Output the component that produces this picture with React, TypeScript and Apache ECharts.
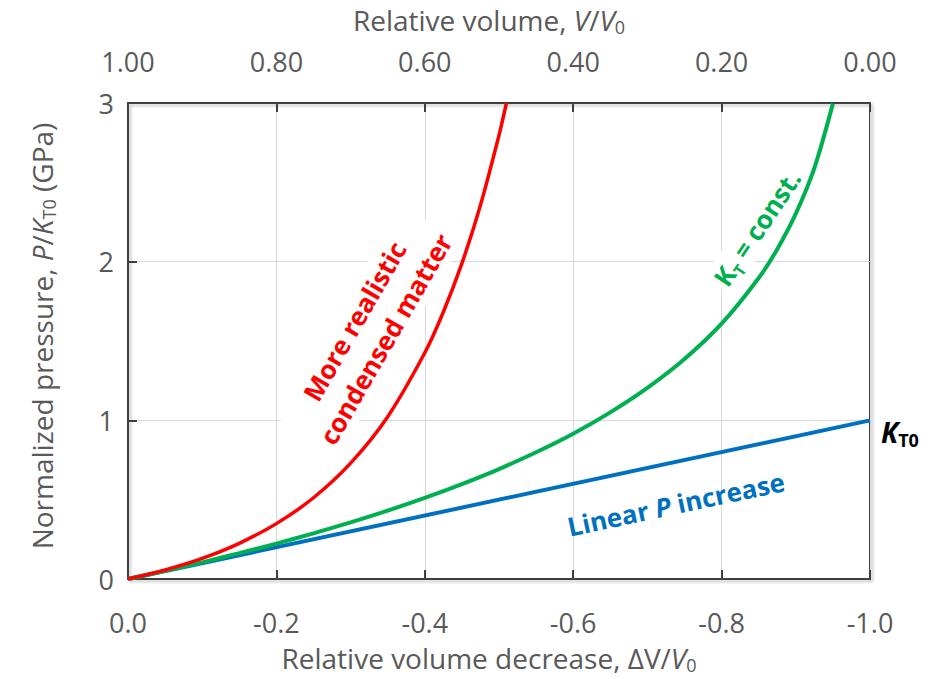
import React, { useEffect, useRef } from "react";
import * as echarts from "echarts";

// Relative volume decrease ΔV/V0 (x) and normalized pressure P/K_T0 (y)
const linearX = [0, -1.0];
const linearY = [0, 1.0];

const ktConstX = [0, -0.05, -0.1, -0.15, -0.2, -0.25, -0.3, -0.35, -0.4, -0.45, -0.5, -0.55, -0.6, -0.65, -0.7, -0.75, -0.8, -0.85, -0.875, -0.9, -0.925, -0.95];
const ktConstY = [0, 0.051, 0.105, 0.163, 0.223, 0.288, 0.357, 0.431, 0.511, 0.598, 0.693, 0.799, 0.916, 1.05, 1.204, 1.386, 1.609, 1.897, 2.079, 2.303, 2.59, 2.996];

const realX = [0, -0.05, -0.1, -0.15, -0.2, -0.25, -0.3, -0.35, -0.4, -0.425, -0.45, -0.475, -0.5, -0.51];
const realY = [0, 0.057, 0.13, 0.225, 0.349, 0.512, 0.73, 1.023, 1.426, 1.683, 1.989, 2.356, 2.797, 3.0];

const bottomTicks = { min: -1, max: 0, interval: 0.2 };
const topTicks = { min: 0, max: 1, interval: 0.2 };
const yTicks = { min: 0, max: 3, interval: 1 };

const FONT = "'Open Sans', 'Noto Sans', sans-serif";
const GREY = "#595959";
const RED = "#ff0000";
const GREEN = "#00b050";
const BLUE = "#0070c0";

const zip = (xs: number[], ys: number[]) => xs.map((x, i) => [x, ys[i]]);

export default function App() {
  const ref = useRef<HTMLDivElement>(null);
  useEffect(() => {
    if (!ref.current) return;
    const chart = echarts.init(ref.current, undefined, { renderer: "svg" });
    const axisLine = { show: true, lineStyle: { color: "#404040", width: 2 } };
    const axisTick = { show: true, inside: true, length: 9, lineStyle: { color: "#404040", width: 2 } };
    const labelStyle = { color: GREY, fontSize: 27, fontFamily: FONT };
    const nameRich = {
      n: { fontSize: 28, fontFamily: FONT, color: GREY },
      i: { fontSize: 28, fontFamily: FONT, color: GREY, fontStyle: "italic" },
      s: { fontSize: 18, fontFamily: FONT, color: GREY, verticalAlign: "bottom", lineHeight: 32 },
    };
    chart.setOption({
      animation: false,
      backgroundColor: "#ffffff",
      grid: {
        left: 128,
        right: 71,
        top: 103,
        bottom: 94,
        show: true,
        borderColor: "#404040",
        borderWidth: 2,
        shadowColor: "rgba(0,0,0,0.25)",
        shadowBlur: 3,
        shadowOffsetX: 2,
        shadowOffsetY: 2,
      },
      xAxis: [
        {
          type: "value",
          position: "bottom",
          ...bottomTicks,
          inverse: true,
          axisLine,
          axisTick,
          splitLine: { show: true, lineStyle: { color: "#d9d9d9", width: 1 } },
          axisLabel: {
            ...labelStyle,
            margin: 30,
            formatter: (v: number) => (Math.abs(v) < 1e-9 ? "0.0" : v.toFixed(1)),
          },
          name: "{n|Relative volume decrease, ΔV/}{i|V}{s|0}",
          nameLocation: "middle",
          nameGap: 63,
          nameTextStyle: { rich: nameRich, padding: [0, 20, 0, 0] },
        },
        {
          type: "value",
          position: "top",
          ...topTicks,
          inverse: true,
          axisLine,
          axisTick,
          splitLine: { show: false },
          axisLabel: {
            ...labelStyle,
            margin: 28,
            formatter: (v: number) => Math.abs(v).toFixed(2),
          },
          name: "{n|Relative volume, }{i|V}{n|/}{i|V}{s|0}",
          nameLocation: "middle",
          nameGap: 67,
          nameTextStyle: { rich: nameRich, padding: [0, 20, 0, 0] },
        },
      ],
      yAxis: {
        type: "value",
        ...yTicks,
        axisLine,
        axisTick,
        splitLine: { show: true, lineStyle: { color: "#d9d9d9", width: 1 } },
        axisLabel: { ...labelStyle, margin: 14 },
        name: "{n|Normalized pressure, }{i|P}{n|/}{i|K}{s|T0}{n| (GPa)}",
        nameLocation: "middle",
        nameGap: 70,
        nameRotate: 90,
        nameTextStyle: { rich: nameRich, padding: [0, 0, 0, 10] },
      },
      series: [
        {
          type: "line",
          name: "Linear P increase",
          data: zip(linearX, linearY),
          showSymbol: false,
          lineStyle: { color: BLUE, width: 4 },
          z: 3,
        },
        {
          type: "line",
          name: "KT = const.",
          data: zip(ktConstX, ktConstY),
          smooth: 0.3,
          showSymbol: false,
          lineStyle: { color: GREEN, width: 4 },
          z: 4,
        },
        {
          type: "line",
          name: "More realistic condensed matter",
          data: zip(realX, realY),
          smooth: 0.3,
          showSymbol: false,
          lineStyle: { color: RED, width: 3.5 },
          z: 5,
        },
      ],
      graphic: [
        {
          type: "text",
          z: 1,
          x: 370,
          y: 330,
          rotation: (60 * Math.PI) / 180,
          style: {
            text: "More realistic\ncondensed matter",
            fill: RED,
            font: `bold 26px ${FONT}`,
            align: "center",
            verticalAlign: "middle",
            lineHeight: 36,
            backgroundColor: "#ffffff",
            padding: [0, 4],
          },
        },
        {
          type: "text",
          z: 1,
          x: 757,
          y: 228,
          rotation: (56 * Math.PI) / 180,
          style: {
            text: "{k|K}{t|T}{k| = const.}",
            align: "center",
            verticalAlign: "middle",
            backgroundColor: "#ffffff",
            padding: [0, 4],
            rich: {
              k: { fill: GREEN, font: `bold 26px ${FONT}`, lineHeight: 34 },
              t: { fill: GREEN, font: `bold 16px ${FONT}`, verticalAlign: "bottom", lineHeight: 30 },
            },
          },
        },
        {
          type: "text",
          z: 1,
          x: 676,
          y: 504,
          rotation: (12 * Math.PI) / 180,
          style: {
            text: "{a|Linear }{p|P}{a| increase}",
            align: "center",
            verticalAlign: "middle",
            rich: {
              a: { fill: BLUE, font: `bold 26px ${FONT}` },
              p: { fill: BLUE, font: `italic bold 26px ${FONT}` },
            },
          },
        },
        {
          type: "text",
          z: 1,
          x: 881,
          y: 432,
          style: {
            text: "{k|K}{t|T0}",
            align: "left",
            verticalAlign: "middle",
            rich: {
              k: { fill: "#000000", font: `italic bold 28px ${FONT}`, lineHeight: 34 },
              t: { fill: "#000000", font: `bold 18px ${FONT}`, verticalAlign: "bottom", lineHeight: 28 },
            },
          },
        },
      ],
    });
    return () => chart.dispose();
  }, []);
  return <div ref={ref} style={{ width: 941, height: 679, position: "absolute", left: 0, top: 0 }} />;
}
